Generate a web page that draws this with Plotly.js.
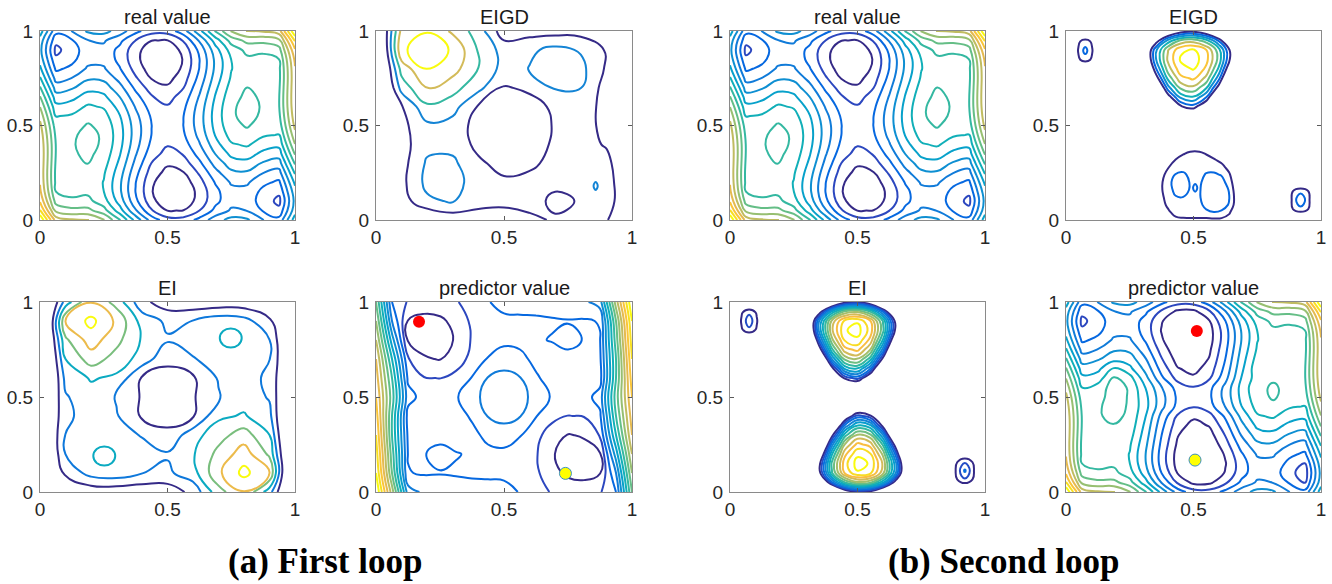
<!DOCTYPE html>
<html><head><meta charset="utf-8">
<script src="https://cdn.plot.ly/plotly-3.0.1.min.js"></script>
<style>html,body{margin:0;padding:0;background:#fff}#chart{width:1332px;height:584px}</style>
</head><body><div id="chart"></div>
<script>
// ---------- tick labels / titles ----------
const tickVals = [0, 0.5, 1];
const tickText = ['0', '0.5', '1'];
const panelTitles = ['real value', 'EIGD', 'EI', 'predictor value', 'real value', 'EIGD', 'EI', 'predictor value'];
const captions = ['(a) First loop', '(b) Second loop'];

// ---------- real value (17 x 21 grid) ----------
const xReal = [0,0.0625,0.125,0.1875,0.25,0.3125,0.375,0.4375,0.5,0.5625,0.625,0.6875,0.75,0.8125,0.875,0.9375,1];
const yReal = [0,0.05,0.1,0.15,0.2,0.25,0.3,0.35,0.4,0.45,0.5,0.55,0.6,0.65,0.7,0.75,0.8,0.85,0.9,0.95,1];
const zReal = [
[5.73,3.88,3.67,3.65,3.23,2.40,1.37,0.49,0.00,-0.01,0.37,0.90,1.23,1.15,0.67,0.38,1.73],
[4.92,3.09,2.90,2.90,2.52,1.70,0.71,-0.15,-0.62,-0.60,-0.19,0.35,0.72,0.65,0.20,-0.06,1.32],
[4.41,2.61,2.44,2.47,2.11,1.32,0.35,-0.48,-0.92,-0.88,-0.45,0.12,0.51,0.47,0.04,-0.30,1.21],
[4.13,2.35,2.22,2.27,1.93,1.17,0.22,-0.58,-1.00,-0.93,-0.48,0.12,0.53,0.52,0.12,-0.10,1.33],
[4.01,2.26,2.14,2.22,1.91,1.17,0.25,-0.53,-0.92,-0.83,-0.35,0.27,0.71,0.72,0.34,0.16,1.61],
[3.98,2.25,2.17,2.27,1.98,1.27,0.37,-0.38,-0.75,-0.63,-0.13,0.52,0.98,1.02,0.67,0.50,1.98],
[4.00,2.29,2.23,2.36,2.10,1.41,0.54,-0.20,-0.54,-0.40,0.14,0.81,1.30,1.36,1.03,0.89,2.40],
[4.01,2.33,2.29,2.44,2.21,1.54,0.70,-0.01,-0.33,-0.16,0.40,1.09,1.61,1.69,1.39,1.28,2.81],
[3.98,2.33,2.31,2.49,2.28,1.64,0.82,0.14,-0.15,0.04,0.62,1.34,1.88,1.99,1.71,1.63,3.18],
[3.89,2.26,2.28,2.48,2.29,1.68,0.88,0.23,-0.04,0.18,0.78,1.53,2.09,2.23,1.98,1.91,3.49],
[3.73,2.13,2.17,2.39,2.23,1.64,0.87,0.24,0.00,0.24,0.87,1.64,2.23,2.39,2.17,2.13,3.73],
[3.49,1.91,1.98,2.23,2.09,1.53,0.78,0.18,-0.04,0.23,0.88,1.68,2.29,2.48,2.28,2.26,3.89],
[3.18,1.63,1.71,1.99,1.88,1.34,0.62,0.04,-0.15,0.14,0.82,1.64,2.28,2.49,2.31,2.33,3.98],
[2.81,1.28,1.39,1.69,1.61,1.09,0.40,-0.16,-0.33,-0.01,0.70,1.54,2.21,2.44,2.29,2.33,4.01],
[2.40,0.89,1.03,1.36,1.30,0.81,0.14,-0.40,-0.54,-0.20,0.54,1.41,2.10,2.36,2.23,2.29,4.00],
[1.98,0.50,0.67,1.02,0.98,0.52,-0.13,-0.63,-0.75,-0.38,0.37,1.27,1.98,2.27,2.17,2.25,3.98],
[1.61,0.16,0.34,0.72,0.71,0.27,-0.35,-0.83,-0.92,-0.53,0.25,1.17,1.91,2.22,2.14,2.26,4.01],
[1.33,-0.10,0.12,0.52,0.53,0.12,-0.48,-0.93,-1.00,-0.58,0.22,1.17,1.93,2.27,2.22,2.35,4.13],
[1.21,-0.30,0.04,0.47,0.51,0.12,-0.45,-0.88,-0.92,-0.48,0.35,1.32,2.11,2.47,2.44,2.61,4.41],
[1.32,-0.06,0.20,0.65,0.72,0.35,-0.19,-0.60,-0.62,-0.15,0.71,1.70,2.52,2.90,2.90,3.09,4.92],
[1.73,0.38,0.67,1.15,1.23,0.90,0.37,-0.01,0.00,0.49,1.37,2.40,3.23,3.65,3.67,3.88,5.73]
];

// ---------- predictor value, second loop (same grid as real value) ----------
const zPred2 = [
[5.73,3.88,3.67,3.65,3.23,2.40,1.37,0.49,0.00,-0.01,0.37,0.90,1.23,1.15,0.67,0.38,1.73],
[4.92,3.09,2.90,2.90,2.52,1.67,0.63,-0.25,-0.72,-0.70,-0.27,0.32,0.72,0.65,0.20,-0.20,1.32],
[4.41,2.61,2.44,2.47,2.11,1.27,0.23,-0.63,-1.07,-1.03,-0.57,0.07,0.51,0.47,-0.05,-0.40,1.21],
[4.13,2.35,2.22,2.27,1.93,1.10,0.06,-0.78,-1.20,-1.13,-0.64,0.05,0.53,0.52,0.12,-0.22,1.33],
[4.01,2.26,2.14,2.22,1.91,1.08,0.05,-0.78,-1.17,-1.08,-0.55,0.18,0.71,0.72,0.34,0.16,1.61],
[3.98,2.25,2.17,2.27,1.98,1.17,0.13,-0.68,-1.05,-0.93,-0.37,0.42,0.98,1.02,0.67,0.50,1.98],
[4.00,2.29,2.23,2.20,2.10,1.28,0.24,-0.58,-0.92,-0.78,-0.16,0.68,1.30,1.36,1.03,0.89,2.40],
[4.01,2.33,2.29,2.33,2.21,1.39,0.36,-0.43,-0.75,-0.58,0.06,0.94,1.61,1.69,1.39,1.28,2.81],
[3.98,2.33,2.31,2.45,2.28,1.51,0.52,-0.24,-0.53,-0.34,0.32,1.21,1.88,1.99,1.71,1.63,3.18],
[3.89,2.26,2.28,2.55,2.29,1.64,0.78,0.11,-0.16,0.06,0.68,1.49,2.09,2.25,1.98,1.91,3.49],
[3.73,2.13,2.17,2.58,2.30,1.61,0.81,0.16,-0.08,0.16,0.81,1.61,2.20,2.40,2.20,2.13,3.73],
[3.49,1.91,2.10,2.55,2.30,1.49,0.68,0.06,-0.16,0.11,0.78,1.64,2.25,2.40,2.25,2.26,3.89],
[3.18,1.63,1.71,2.38,2.10,1.21,0.32,-0.34,-0.53,-0.24,0.52,1.51,2.15,2.30,2.20,2.33,3.98],
[2.81,1.28,1.39,1.95,1.61,0.94,0.06,-0.58,-0.75,-0.43,0.36,1.39,2.21,2.22,2.15,2.33,4.01],
[2.40,0.89,1.03,1.36,1.30,0.68,-0.16,-0.78,-0.92,-0.58,0.24,1.28,2.10,2.15,2.23,2.29,4.00],
[1.98,0.50,0.67,1.02,0.98,0.42,-0.37,-0.93,-1.05,-0.68,0.13,1.17,1.98,2.10,2.17,2.25,3.98],
[1.61,0.16,0.34,0.72,0.71,0.18,-0.55,-1.08,-1.17,-0.78,0.05,1.08,1.91,2.22,2.14,2.26,4.01],
[1.33,-0.10,0.12,0.52,0.53,0.05,-0.64,-1.13,-1.20,-0.78,0.06,1.10,1.93,2.27,2.22,2.35,4.13],
[1.21,-0.30,0.04,0.47,0.51,0.07,-0.57,-1.03,-1.07,-0.63,0.23,1.27,2.11,2.47,2.44,2.61,4.41],
[1.32,-0.06,0.20,0.65,0.72,0.32,-0.27,-0.70,-0.72,-0.25,0.63,1.67,2.52,2.90,2.90,3.09,4.92],
[1.73,0.38,0.67,1.15,1.23,0.90,0.37,-0.01,0.00,0.49,1.37,2.40,3.23,3.65,3.67,3.88,5.73]
];

// ---------- predictor value, first loop (17 x 11) ----------
const xPred1 = xReal;
const yPred1 = [0,0.1,0.2,0.3,0.4,0.5,0.6,0.7,0.8,0.9,1];
const zPred1 = [
[16.0,10.5,4.5,3.8,3.6,3.5,3.5,3.4,3.3,2.95,2.5,1.9,1.6,1.5,1.9,3.0,9.0],
[15.0,9.0,3.05,2.9,2.95,2.9,2.8,2.8,2.8,2.7,2.2,1.3,0.8,0.7,0.95,4.0,10.0],
[14.5,8.5,2.95,2.95,3.3,3.05,2.9,2.8,2.8,2.7,2.1,1.1,0.55,0.6,0.9,5.5,11.0],
[14.0,8.0,2.8,2.6,2.7,2.6,2.8,3.2,3.4,3.05,2.3,1.5,0.95,1.1,2.1,7.0,12.0],
[13.5,8.0,2.6,2.3,2.5,2.7,3.1,4.05,4.4,4.05,3.05,2.3,1.98,2.05,2.8,8.0,12.5],
[13.0,8.5,3.4,2.6,2.5,2.9,3.6,4.4,4.7,4.4,3.6,2.9,2.5,2.6,3.4,8.5,13.0],
[12.5,8.0,2.8,2.05,1.98,2.3,3.05,4.05,4.4,4.05,3.1,2.7,2.5,2.3,2.6,8.0,13.5],
[12.0,7.0,2.1,1.1,0.95,1.5,2.3,3.05,3.4,3.2,2.8,2.6,2.7,2.6,2.8,8.0,14.0],
[11.0,5.5,0.9,0.6,0.55,1.1,2.1,2.7,2.8,2.8,2.9,3.05,3.3,2.95,2.95,8.5,14.5],
[10.0,4.0,0.95,0.7,0.8,1.3,2.2,2.7,2.8,2.8,2.8,2.9,2.95,2.9,3.05,9.0,15.0],
[9.0,3.0,1.9,1.5,1.6,1.9,2.5,2.95,3.3,3.4,3.5,3.5,3.6,3.8,4.5,10.5,16.0]
];

// ---------- EI and EIGD, first loop (11 x 11) ----------
const x11 = [0,0.1,0.2,0.3,0.4,0.5,0.6,0.7,0.8,0.9,1];
const y11 = [0,0.1,0.2,0.3,0.4,0.5,0.6,0.7,0.8,0.9,1];
const zEI1 = [
[-2.0,0.2,0.3,0.3,0.3,0.4,1.3,3.6,4.95,2.4,-2.0],
[-2.0,1.2,2.4,2.6,2.02,1.8,2.6,4.8,6.3,5.0,-3.0],
[-1.5,2.02,2.8,2.85,2.6,2.1,2.9,4.3,5.5,3.8,-2.5],
[-1.2,2.02,2.6,2.6,1.9,1.2,2.6,3.6,4.5,3.0,-2.5],
[-1.2,1.8,2.4,2.1,0.85,0.7,0.9,2.8,3.1,2.3,-2.3],
[-1.5,1.9,2.6,1.9,0.9,0.5,0.9,1.9,2.6,1.9,-1.5],
[-2.3,2.3,3.1,2.8,0.9,0.7,0.85,2.1,2.4,1.8,-1.2],
[-2.5,3.0,4.5,3.6,2.6,1.2,1.9,2.6,2.6,2.02,-1.2],
[-2.5,3.8,5.5,4.3,2.9,2.1,2.6,2.85,2.8,2.02,-1.5],
[-3.0,5.0,6.3,4.8,2.6,1.8,2.02,2.6,2.4,1.2,-2.0],
[-2.0,2.4,4.95,3.6,1.3,0.4,0.3,0.3,0.3,0.2,-2.0]
];
const xEI1TR = [0.69,0.72,0.748,0.776,0.806];
const yEI1TR = [0.74,0.775,0.81,0.845,0.88];
const xEI1BL = [0.194,0.224,0.252,0.28,0.31];
const yEI1BL = [0.12,0.155,0.19,0.225,0.26];
const zEI1Bump = [
[2.7,2.75,2.8,2.75,2.7],
[2.75,3.03,3.15,3.03,2.75],
[2.9,3.1,3.4,3.1,2.9],
[2.75,3.03,3.15,3.03,2.75],
[2.7,2.75,2.8,2.75,2.7]
];
const zEIGD1 = [
[-1.5,-0.8,-0.2,0.3,0.3,0.4,0.7,1.15,1.2,1.1,-0.5],
[-1.0,0.5,1.8,2.1,1.5,1.3,1.5,0.7,1.1,1.6,-0.3],
[-1.0,0.7,2.3,2.4,1.5,1.2,1.3,1.3,1.6,1.55,-0.3],
[-1.2,0.6,2.15,2.2,1.2,0.6,0.8,1.3,1.5,1.35,-0.4],
[-1.2,0.6,1.7,1.7,0.7,0.3,0.4,1.2,1.4,0.9,-0.5],
[-1.2,0.7,1.8,1.6,0.6,0.3,0.4,1.1,1.3,0.8,-0.5],
[-1.5,0.9,2.8,2.4,0.9,0.5,0.6,1.2,1.5,0.67,-0.5],
[-2.0,2.4,4.1,3.4,2.3,0.9,1.2,2.1,2.02,0.56,-0.5],
[-2.0,3.4,5.05,4.4,3.02,1.6,2.05,2.5,2.3,0.86,-0.5],
[-2.0,4.85,5.5,4.9,2.9,1.6,1.8,2.3,1.9,0.9,-0.5],
[-1.5,4.3,4.95,3.8,2.5,0.4,0.6,0.6,0.6,0.3,-0.5]
];
const xEIGD1Dot = [0.83,0.845,0.858,0.871,0.886];
const yEIGD1Dot = [0.13,0.155,0.18,0.205,0.23];
const zEIGD1Dot = [
[1.8,1.8,1.8,1.8,1.8],
[1.8,1.99,1.99,1.99,1.8],
[1.8,1.97,2.05,1.97,1.8],
[1.8,1.99,1.99,1.99,1.8],
[1.8,1.8,1.8,1.8,1.8]
];

// ---------- EI, second loop: local patches ----------
const xPeak = [0.30,0.35,0.40,0.45,0.50,0.55,0.60,0.65,0.70];
const yPeakTop = [0.55,0.60,0.65,0.70,0.75,0.80,0.85,0.90,0.95,1.00];
const yPeakBot = [0.00,0.05,0.10,0.15,0.20,0.25,0.30,0.35,0.40,0.45];
const zEI2Top = [
[-37.5,-20.97,-9.57,-3.26,-2.05,-5.92,-14.88,-28.91,-48.05],
[-28.29,-14.01,-4.11,1.37,2.43,-0.92,-8.69,-20.88,-37.5],
[-20.81,-8.23,0.42,5.22,6.15,3.21,-3.59,-14.28,-28.56],
[-14.65,-3.59,4.07,8.30,9.11,6.53,0.52,-8.91,-21.76],
[-9.83,0.01,6.83,10.59,11.32,9.02,3.66,-4.72,-16.18],
[-6.17,2.65,8.74,12.12,12.77,10.70,5.92,-1.59,-11.82],
[-3.59,4.35,9.83,12.87,13.46,11.60,7.29,0.53,-8.69],
[-3.52,4.11,9.37,12.28,12.85,11.07,6.92,0.44,-8.42],
[-7.63,0.00,5.26,8.19,8.74,6.96,2.82,-3.67,-12.53],
[-15.46,-7.83,-2.57,0.35,0.91,-0.87,-5.02,-11.51,-20.36]
];
const zEI2Bot = [
[-20.36,-11.51,-5.02,-0.87,0.91,0.35,-2.57,-7.83,-15.46],
[-12.53,-3.67,2.82,6.96,8.74,8.19,5.26,0.00,-7.63],
[-8.42,0.44,6.92,11.07,12.85,12.28,9.37,4.11,-3.52],
[-8.69,0.53,7.29,11.60,13.46,12.87,9.83,4.35,-3.59],
[-11.82,-1.59,5.92,10.70,12.77,12.12,8.74,2.65,-6.17],
[-16.18,-4.72,3.66,9.02,11.32,10.59,6.83,0.01,-9.83],
[-21.76,-8.91,0.52,6.53,9.11,8.30,4.07,-3.59,-14.65],
[-28.56,-14.28,-3.59,3.21,6.15,5.22,0.42,-8.23,-20.81],
[-37.5,-20.88,-8.69,-0.92,2.43,1.37,-4.11,-14.01,-28.29],
[-48.05,-28.91,-14.88,-5.92,-2.05,-3.26,-9.57,-20.97,-37.5]
];
const xEI2TL = [0.02,0.045,0.075,0.105,0.13];
const yEI2TL = [0.81,0.855,0.9,0.945,0.99];
const zEI2TL = [
[-0.5,-0.5,-0.5,-0.5,-0.5],
[-0.5,0.85,1.75,0.85,-0.5],
[-0.5,1.13,2.66,1.13,-0.5],
[-0.5,0.85,1.75,0.85,-0.5],
[-0.5,-0.5,-0.5,-0.5,-0.5]
];
const xEI2BR = [0.86,0.89,0.921,0.952,0.98];
const yEI2BR = [0.015,0.063,0.1115,0.16,0.21];
const zEI2BR = [
[-0.5,-0.5,-0.5,-0.5,-0.5],
[-0.5,0.95,1.77,0.95,-0.5],
[-0.5,1.3,3.19,1.3,-0.5],
[-0.5,0.95,1.77,0.95,-0.5],
[-0.5,-0.5,-0.5,-0.5,-0.5]
];

// ---------- EIGD, second loop: local patches ----------
const zEIGD2Top = [
[-23.7,-13.26,-6.05,-2.06,-1.30,-3.74,-9.41,-18.28,-30.4],
[-17.89,-8.86,-2.60,0.87,1.54,-0.58,-5.50,-13.2,-23.7],
[-13.16,-5.20,0.27,3.30,3.89,2.03,-2.27,-9.03,-18.06],
[-9.26,-2.27,2.57,5.25,5.76,4.13,0.33,-5.63,-13.76],
[-6.22,0.01,4.32,6.70,7.16,5.70,2.31,-2.98,-10.23],
[-3.90,1.68,5.53,7.66,8.08,6.77,3.74,-1.01,-7.47],
[-2.27,2.75,6.22,8.14,8.51,7.34,4.61,0.34,-5.50],
[-2.23,2.60,5.93,7.77,8.13,7.00,4.38,0.28,-5.32],
[-4.83,0.00,3.33,5.18,5.53,4.40,1.78,-2.32,-7.92],
[-9.78,-4.95,-1.63,0.22,0.58,-0.55,-3.17,-7.28,-12.87]
];
const xEIGD2Low = [0.34,0.37,0.40,0.43,0.46,0.49,0.52,0.55,0.58,0.61,0.64,0.67,0.70];
const yEIGD2Low = [0,0.04,0.08,0.12,0.16,0.20,0.24,0.28,0.32,0.36,0.40];
const zEIGD2Low = [
[-0.5,-0.5,0.2,0.6,0.7,0.7,0.7,0.7,0.75,0.7,0.3,-0.5,-0.5],
[-0.5,-0.3,0.7,1.5,1.75,1.8,1.8,1.9,1.98,1.9,1.2,-0.3,-0.5],
[-0.5,0.3,1.3,1.75,1.85,1.8,1.85,2.15,2.3,2.25,1.95,0.3,-0.5],
[-0.5,0.6,1.5,1.95,1.98,1.85,1.9,2.3,2.5,2.4,2.02,0.4,-0.5],
[-0.5,0.75,1.7,2.2,2.3,1.9,1.9,2.3,2.5,2.4,1.95,0.2,-0.5],
[-0.5,0.7,1.75,2.3,2.35,1.9,1.85,2.25,2.4,2.25,1.7,-0.2,-0.5],
[-0.5,0.4,1.5,2.05,2.1,1.85,1.8,2.05,2.1,1.95,1.2,-0.5,-0.5],
[-0.5,-0.3,0.9,1.6,1.8,1.75,1.75,1.8,1.75,1.4,0.5,-0.5,-0.5],
[-0.5,-0.5,0.1,1.0,1.4,1.5,1.5,1.4,1.1,0.6,-0.2,-0.5,-0.5],
[-0.5,-0.5,-0.5,0.2,0.8,1.05,1.05,0.8,0.3,-0.3,-0.5,-0.5,-0.5],
[-0.5,-0.5,-0.5,-0.5,-0.2,0.2,0.2,-0.2,-0.5,-0.5,-0.5,-0.5,-0.5]
];
const xEIGD2Mid = [0.49,0.5065,0.523];
const yEIGD2Mid = [0.13,0.17,0.21];
const zEIGD2Mid = [[1.9,1.9,1.9],[1.9,2.1,1.9],[1.9,1.9,1.9]];
const xEIGD2TL = [0.02,0.048,0.0755,0.103,0.13];
const yEIGD2TL = [0.80,0.848,0.8965,0.945,0.993];
const zEIGD2TL = [
[-0.5,-0.5,-0.5,-0.5,-0.5],
[-0.5,0.85,1.37,0.85,-0.5],
[-0.5,1.05,2.4,1.05,-0.5],
[-0.5,0.85,1.37,0.85,-0.5],
[-0.5,-0.5,-0.5,-0.5,-0.5]
];
const xEIGD2BR = [0.86,0.89,0.92,0.95,0.98];
const yEIGD2BR = [0.01,0.058,0.1055,0.153,0.20];
const zEIGD2BR = [
[-0.5,-0.5,-0.5,-0.5,-0.5],
[-0.5,1.0,1.63,1.0,-0.5],
[-0.5,1.3,3.0,1.3,-0.5],
[-0.5,1.0,1.63,1.0,-0.5],
[-0.5,-0.5,-0.5,-0.5,-0.5]
];

// ---------- sample points ----------
const pred1RedX = [0.168], pred1RedY = [0.896];
const pred1YelX = [0.74], pred1YelY = [0.098];
const pred2RedX = [0.513], pred2RedY = [0.847];
const pred2YelX = [0.506], pred2YelY = [0.168];

// ---------- styling ----------
const parula = [
 [0.000,'rgb(53,42,135)'],[0.0635,'rgb(50,67,186)'],[0.127,'rgb(3,99,225)'],
 [0.190,'rgb(13,117,220)'],[0.254,'rgb(20,133,212)'],[0.317,'rgb(9,152,209)'],
 [0.381,'rgb(6,167,198)'],[0.444,'rgb(21,177,180)'],[0.508,'rgb(56,185,158)'],
 [0.571,'rgb(101,190,134)'],[0.635,'rgb(146,191,115)'],[0.698,'rgb(183,189,100)'],
 [0.762,'rgb(217,186,86)'],[0.825,'rgb(248,187,68)'],[0.889,'rgb(252,206,46)'],
 [0.952,'rgb(245,235,24)'],[1.000,'rgb(249,251,14)']
];
const LV_REAL = {start:-0.609, end:5.311, size:0.4228};
const LV_PRED1 = {start:1, end:15, size:1};
const LV_EI1 = {start:1, end:6, size:1};
const LV_EIGD1 = {start:1, end:5, size:1};
const LV_EI2 = {start:1, end:13, size:1};
const LV_EIGD2 = {start:1, end:8, size:1};

function axName(i, p){ return p + (i === 1 ? '' : i); }
function contour(x, y, z, i, lv){
  return {type:'contour', x:x, y:y, z:z, xaxis:axName(i,'x'), yaxis:axName(i,'y'),
    colorscale:parula, showscale:false, autocontour:false, zauto:false, zmin:lv.start, zmax:lv.end,
    contours:{coloring:'lines', start:lv.start, end:lv.end, size:lv.size, showlabels:false},
    line:{width:2, smoothing:1.3}, hoverinfo:'skip'};
}
function dot(x, y, i, color, line){
  return {type:'scatter', mode:'markers', x:x, y:y, xaxis:axName(i,'x'), yaxis:axName(i,'y'),
    marker:{size:12, color:color, line:line || {width:0}}, hoverinfo:'skip'};
}

const traces = [
  contour(xReal, yReal, zReal, 1, LV_REAL),
  contour(x11, y11, zEIGD1, 2, LV_EIGD1),
  contour(xEIGD1Dot, yEIGD1Dot, zEIGD1Dot, 2, LV_EIGD1),
  contour(x11, y11, zEI1, 3, LV_EI1),
  contour(xEI1TR, yEI1TR, zEI1Bump, 3, LV_EI1),
  contour(xEI1BL, yEI1BL, zEI1Bump, 3, LV_EI1),
  contour(xPred1, yPred1, zPred1, 4, LV_PRED1),
  dot(pred1RedX, pred1RedY, 4, '#ff0000'),
  dot(pred1YelX, pred1YelY, 4, '#ffff00', {color:'#3a8fc0', width:1}),
  contour(xReal, yReal, zReal, 5, LV_REAL),
  contour(xPeak, yPeakTop, zEIGD2Top, 6, LV_EIGD2),
  contour(xEIGD2Low, yEIGD2Low, zEIGD2Low, 6, LV_EIGD2),
  contour(xEIGD2Mid, yEIGD2Mid, zEIGD2Mid, 6, LV_EIGD2),
  contour(xEIGD2TL, yEIGD2TL, zEIGD2TL, 6, LV_EIGD2),
  contour(xEIGD2BR, yEIGD2BR, zEIGD2BR, 6, LV_EIGD2),
  contour(xPeak, yPeakTop, zEI2Top, 7, LV_EI2),
  contour(xPeak, yPeakBot, zEI2Bot, 7, LV_EI2),
  contour(xEI2TL, yEI2TL, zEI2TL, 7, LV_EI2),
  contour(xEI2BR, yEI2BR, zEI2BR, 7, LV_EI2),
  contour(xReal, yReal, zPred2, 8, LV_REAL),
  dot(pred2RedX, pred2RedY, 8, '#ff0000'),
  dot(pred2YelX, pred2YelY, 8, '#ffff00', {color:'#3a8fc0', width:1})
];

const W = 1332, H = 584;
const colPx = [[40,295],[376,632],[730,985],[1066,1321]];
const rowPx = [[31,220],[302,492]];
const place = [[0,0],[1,0],[0,1],[1,1],[2,0],[3,0],[2,1],[3,1]]; // [col,row]
const sansFont = 'Liberation Sans, Arial, Helvetica, sans-serif';
const tickFont = {family:sansFont, size:19, color:'#262626'};

const layout = {width:W, height:H, margin:{l:0,r:0,t:0,b:0}, paper_bgcolor:'#ffffff', plot_bgcolor:'#ffffff',
  showlegend:false, annotations:[]};
place.forEach(function(p, k){
  const i = k + 1;
  const cx = colPx[p[0]], ry = rowPx[p[1]];
  const xd = [cx[0]/W, cx[1]/W];
  const yd = [(H - ry[1])/H, (H - ry[0])/H];
  const common = {range:[0,1], tickmode:'array', tickvals:tickVals, ticktext:tickText, ticks:'inside', ticklen:4,
    tickwidth:1, tickcolor:'#5a5a5a', showline:true, linecolor:'#8a8a8a', linewidth:1, mirror:'ticks',
    showgrid:false, zeroline:false, tickfont:tickFont, fixedrange:true};
  layout[axName(i,'xaxis')] = Object.assign({domain:xd, anchor:axName(i,'y')}, common);
  layout[axName(i,'yaxis')] = Object.assign({domain:yd, anchor:axName(i,'x'), ticklabelstandoff:2}, common);
  layout.annotations.push({text:panelTitles[k], xref:'paper', yref:'paper', x:(xd[0]+xd[1])/2, y:yd[1] + 1/H,
    xanchor:'center', yanchor:'bottom', showarrow:false, font:{family:sansFont, size:20, color:'#1a1a1a'}});
});
layout.annotations.push({text:'<b>' + captions[0] + '</b>', xref:'paper', yref:'paper', x:325/W, y:(H-561)/H,
  xanchor:'center', yanchor:'middle', showarrow:false, font:{family:'Liberation Serif, Times New Roman, serif', size:35, color:'#000'}});
layout.annotations.push({text:'<b>' + captions[1] + '</b>', xref:'paper', yref:'paper', x:1003/W, y:(H-561)/H,
  xanchor:'center', yanchor:'middle', showarrow:false, font:{family:'Liberation Serif, Times New Roman, serif', size:35, color:'#000'}});

Plotly.newPlot('chart', traces, layout, {staticPlot:true, displayModeBar:false});
</script></body></html>
